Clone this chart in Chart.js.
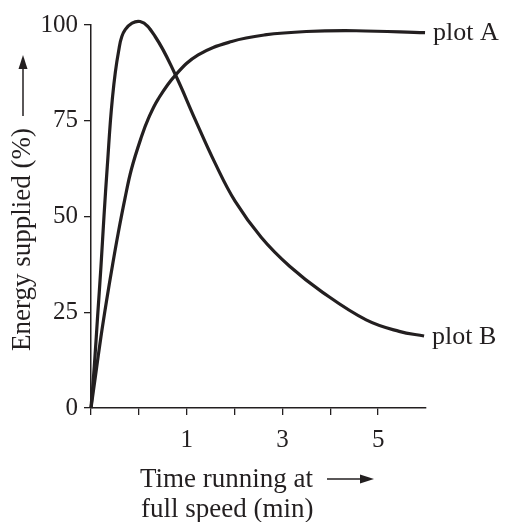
<!DOCTYPE html>
<html>
<head>
<meta charset="utf-8">
<script src="https://cdn.jsdelivr.net/npm/chart.js@4"></script>
<style>
  html, body { margin: 0; padding: 0; background: #fff; }
  #wrap { width: 510px; height: 522px; }
</style>
</head>
<body>
<div id="wrap"><canvas id="energyChart"></canvas></div>
<script>
// axis positions are tick steps; labels only on some of them
const xTicks = [0, 1, 2, 3, 4, 5, 6];
const xTickLabels = ['', '', '1', '', '3', '', '5'];
const yTicks = [0, 25, 50, 75, 100];

// plot A: steady rise to a plateau
const timeA = [0, 0.096, 0.208, 0.325, 0.444, 0.569, 0.708, 0.846, 1.054, 1.2, 1.4, 1.756, 2.24, 2.94, 3.63, 4.5, 5.54, 6.98];
const plotA = [0, 8.6, 18.6, 28.0, 36.9, 45.7, 54.6, 62.4, 70.8, 75.6, 80.6, 86.8, 92.2, 95.7, 97.4, 98.3, 98.5, 98.0];

// plot B: fast peak then decay
const timeB = [0, 0.069, 0.138, 0.208, 0.271, 0.34, 0.444, 0.575, 0.715, 1.027, 1.34, 1.756, 2.17, 2.59, 3.01, 3.56, 4.15, 4.84, 5.75, 6.44, 6.96];
const plotB = [0, 10.9, 23.9, 36.9, 50.0, 63.0, 80.4, 93.0, 98.8, 100.9, 97.0, 87.2, 75.5, 64.0, 54.0, 44.5, 37.0, 30.2, 23.0, 20.0, 18.8];

const seriesNames = ['plot A', 'plot B'];

const ink = '#231f20';
const serif = '"Liberation Serif", "DejaVu Serif", serif';

function toPoints(xs, ys) {
    return xs.map((x, i) => ({ x: x, y: ys[i] }));
}

// draws the axis titles, arrows and end labels
const annotate = {
    id: 'annotate',
    afterDraw(chart) {
        const c = chart.ctx;
        c.save();
        c.fillStyle = ink;
        c.strokeStyle = ink;

        // end labels next to the last point of each line
        c.font = '26px ' + serif;
        c.textAlign = 'left';
        c.textBaseline = 'middle';
        chart.data.datasets.forEach((ds, i) => {
            const pts = chart.getDatasetMeta(i).data;
            const last = pts[pts.length - 1];
            c.fillText(seriesNames[i], last.x + 8, last.y + 1);
        });

        c.font = '27px ' + serif;

        // y title, rotated, arrow after the text
        const yTitle = 'Energy supplied (%)';
        const yw = c.measureText(yTitle).width;
        c.save();
        c.translate(23, 351);
        c.rotate(-Math.PI / 2);
        c.fillText(yTitle, 0, 0);
        c.restore();
        drawArrow(c, 23, 351 - yw - 12, 23, 55);

        // x title, two lines
        const xw = c.measureText('Time running at').width;
        c.fillText('Time running at', 140, 480);
        c.fillText('full speed (min)', 141, 510);
        drawArrow(c, 140 + xw + 14, 479, 140 + xw + 61, 479);

        c.restore();
    }
};

function drawArrow(c, x1, y1, x2, y2) {
    const ang = Math.atan2(y2 - y1, x2 - x1);
    const head = 14, half = 4.5;
    const bx = x2 - head * Math.cos(ang), by = y2 - head * Math.sin(ang);
    c.lineWidth = 1.5;
    c.beginPath();
    c.moveTo(x1, y1);
    c.lineTo(bx, by);
    c.stroke();
    c.beginPath();
    c.moveTo(x2, y2);
    c.lineTo(bx - half * Math.sin(ang), by + half * Math.cos(ang));
    c.lineTo(bx + half * Math.sin(ang), by - half * Math.cos(ang));
    c.closePath();
    c.fill();
}

const ctx = document.getElementById('energyChart').getContext('2d');
const energyChart = new Chart(ctx, {
    type: 'line',
    data: {
        datasets: [{
            label: seriesNames[0],
            data: toPoints(timeA, plotA),
            borderColor: ink,
            borderWidth: 3.2,
            pointRadius: 0,
            tension: 0.4,
            clip: false
        }, {
            label: seriesNames[1],
            data: toPoints(timeB, plotB),
            borderColor: ink,
            borderWidth: 3.2,
            pointRadius: 0,
            tension: 0.4,
            clip: false
        }]
    },
    options: {
        responsive: true,
        maintainAspectRatio: false,
        animation: false,
        layout: { padding: { left: 0, right: 84, top: 25, bottom: 0 } },
        plugins: {
            legend: { display: false },
            tooltip: { enabled: false }
        },
        scales: {
            x: {
                type: 'linear',
                min: 0,
                max: 7,
                afterFit(scale) { scale.height = 114; },
                afterBuildTicks(scale) { scale.ticks = xTicks.map(v => ({ value: v })); },
                grid: { drawOnChartArea: false, color: ink, tickLength: 7, lineWidth: 1.3 },
                border: { color: ink, width: 1.5 },
                ticks: {
                    color: ink,
                    font: { family: serif, size: 25 },
                    padding: 10,
                    maxRotation: 0,
                    autoSkip: false,
                    callback: (v) => xTickLabels[xTicks.indexOf(v)] ?? ''
                }
            },
            y: {
                min: 0,
                max: 100,
                afterFit(scale) { scale.width = 91; },
                afterBuildTicks(scale) { scale.ticks = yTicks.map(v => ({ value: v })); },
                grid: { drawOnChartArea: false, color: ink, tickLength: 7, lineWidth: 1.3 },
                border: { color: ink, width: 1.5 },
                ticks: {
                    color: ink,
                    font: { family: serif, size: 25 },
                    padding: 6
                }
            }
        }
    },
    plugins: [annotate]
});
</script>
</body>
</html>
